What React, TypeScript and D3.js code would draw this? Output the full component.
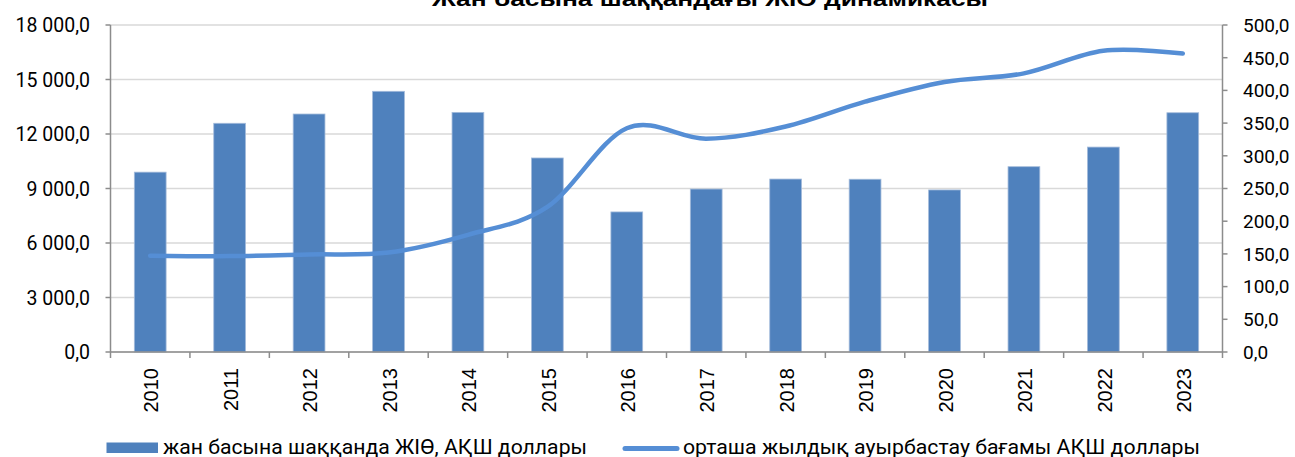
import React from "react";
import * as d3 from "d3";

const years = ["2010","2011","2012","2013","2014","2015","2016","2017","2018","2019","2020","2021","2022","2023"];
const gdpPerCapita = [9900, 12590, 13100, 14350, 13190, 10680, 7710, 8970, 9520, 9510, 8920, 10200, 11280, 13170];
const exchangeRate = [147.35, 146.62, 149.11, 152.13, 179.19, 221.73, 342.16, 326.0, 344.71, 382.75, 412.95, 426.03, 460.48, 456.31];
const leftTicks = [0, 3000, 6000, 9000, 12000, 15000, 18000];
const rightTicks = [0, 50, 100, 150, 200, 250, 300, 350, 400, 450, 500];
const title = "Жан басына шаққандағы ЖІӨ динамикасы";
const legendBar = "жан басына шаққанда ЖІӨ, АҚШ доллары";
const legendLine = "орташа жылдық ауырбастау бағамы АҚШ доллары";

const W = 1295, H = 457;
const left = 110.5, right = 1222.5, top = 25, bottom = 352;

const fmt = (v: number, dec = 1) => {
  const s = v.toFixed(dec);
  const [i, f] = s.split(".");
  const ii = i.replace(/\B(?=(\d{3})+(?!\d))/g, " ");
  return ii + "," + f;
};

export default function App() {
  const x = d3.scaleBand<string>().domain(years).range([left, right]).padding(0);
  const yL = d3.scaleLinear().domain([0, 18000]).range([bottom, top]);
  const yR = d3.scaleLinear().domain([0, 500]).range([bottom, top]);
  const bw = x.bandwidth() * 0.4;
  const line = d3
    .line<number>()
    .x((_, i) => (x(years[i]) as number) + x.bandwidth() / 2)
    .y((d) => yR(d))
    .curve(d3.curveCardinal.tension(0));
  const axisColor = "#8c8c8c";
  const gridColor = "#d9d9d9";
  const numFont = "Roboto, sans-serif";
  return (
    <svg width={W} height={H} style={{ position: "absolute", left: 0, top: 0, background: "#fff" }}>
      <rect x={0} y={0} width={W} height={H} fill="#fff" />
      <text x={710} y={6} textAnchor="middle" fontFamily="'Liberation Sans', Arial, sans-serif" fontWeight="bold" fontSize={20} textLength={556} lengthAdjust="spacingAndGlyphs" fill="#000">{title}</text>
      {leftTicks.map((t) => (
        <line key={"g" + t} x1={left} x2={right} y1={yL(t)} y2={yL(t)} stroke={gridColor} strokeWidth={1.5} />
      ))}
      {years.map((yr, i) => (
        <rect key={yr} x={(x(yr) as number) + (x.bandwidth() - bw) / 2} y={yL(gdpPerCapita[i])} width={bw} height={bottom - yL(gdpPerCapita[i])} fill="#4F81BD" stroke="#a3bbdb" strokeWidth={0.8} />
      ))}
      {/* left axis */}
      <line x1={left} x2={left} y1={top} y2={bottom} stroke={axisColor} strokeWidth={1.5} />
      {leftTicks.map((t) => (
        <g key={"l" + t}>
          <line x1={left - 5} x2={left} y1={yL(t)} y2={yL(t)} stroke={axisColor} strokeWidth={1.5} />
          <text x={90} y={yL(t)} dy="0.36em" textAnchor="end" fontFamily={numFont} fontSize={19.5} fill="#000">{fmt(t)}</text>
        </g>
      ))}
      {/* right axis */}
      <line x1={right} x2={right} y1={top} y2={bottom} stroke={axisColor} strokeWidth={1.5} />
      {rightTicks.map((t) => (
        <g key={"r" + t}>
          <line x1={right} x2={right + 5} y1={yR(t)} y2={yR(t)} stroke={axisColor} strokeWidth={1.5} />
          <text x={1243} y={yR(t)} dy="0.36em" textAnchor="start" fontFamily={numFont} fontSize={19} fill="#000">{fmt(t)}</text>
        </g>
      ))}
      {/* x axis */}
      <line x1={left} x2={right} y1={bottom} y2={bottom} stroke={axisColor} strokeWidth={1.5} />
      {years.map((yr) => (
        <line key={"t" + yr} x1={x(yr) as number} x2={x(yr) as number} y1={bottom} y2={bottom + 6} stroke={axisColor} strokeWidth={1.5} />
      ))}
      <line x1={right} x2={right} y1={bottom} y2={bottom + 6} stroke={axisColor} strokeWidth={1.5} />
      {years.map((yr) => {
        const cx = (x(yr) as number) + x.bandwidth() / 2;
        return (
          <text key={"xl" + yr} transform={`translate(${cx + 1},368) rotate(-90)`} textAnchor="end" dy="0.36em" fontFamily="'Liberation Sans', Arial, sans-serif" fontSize={20} fill="#000">{yr}</text>
        );
      })}
      <path d={line(exchangeRate) || ""} fill="none" stroke="#558ED5" strokeWidth={4.5} strokeLinecap="round" strokeLinejoin="round" />
      {/* legend */}
      <rect x={106.5} y={442.5} width={51.5} height={10.5} fill="#4F81BD" />
      <text x={163} y={454} fontFamily={numFont} fontSize={20} textLength={424} lengthAdjust="spacingAndGlyphs" fill="#000">{legendBar}</text>
      <line x1={625} x2={677} y1={448.5} y2={448.5} stroke="#558ED5" strokeWidth={5} strokeLinecap="round" />
      <text x={683} y={454} fontFamily={numFont} fontSize={20} textLength={517} lengthAdjust="spacingAndGlyphs" fill="#000">{legendLine}</text>
    </svg>
  );
}
